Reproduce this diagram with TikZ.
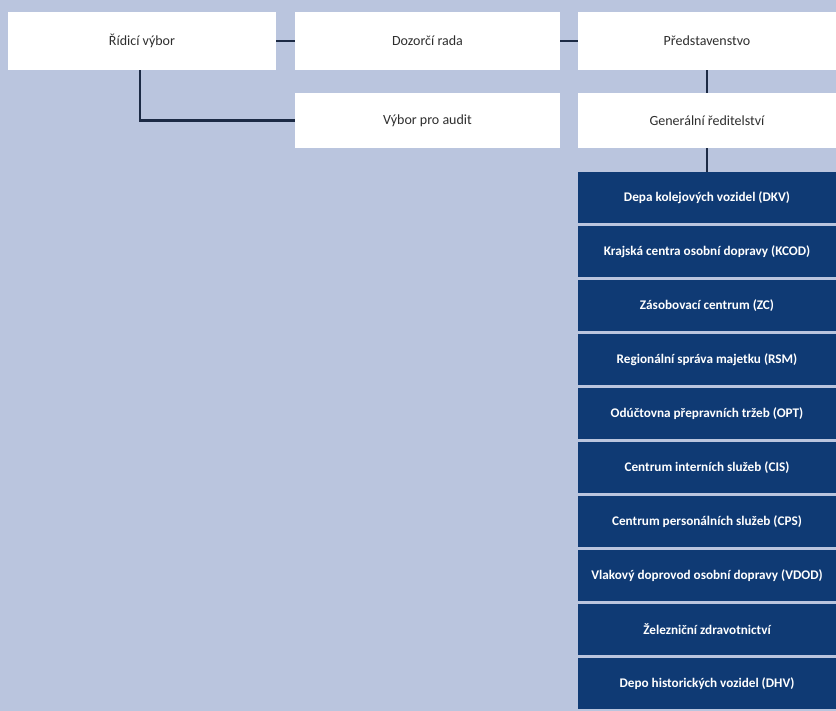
\documentclass[tikz,border=0pt]{standalone}
\usepackage{fontspec}
\setmainfont{Carlito}
\definecolor{bgblue}{HTML}{BAC5DE}
\definecolor{navy}{HTML}{0F3A74}
\definecolor{linecol}{HTML}{1C2A44}
\definecolor{txtgray}{HTML}{2E2E2E}
\begin{document}
\begin{tikzpicture}[x=1pt,y=-1pt,
  wbox/.style={fill=white,draw=none,inner sep=0pt,text=txtgray,font=\fontsize{14}{16}\selectfont},
  nbox/.style={fill=navy,draw=none,inner sep=0pt,text=white,font=\bfseries\fontsize{13.2}{15}\selectfont},
  conn/.style={draw=linecol,line width=2.2pt}]
\fill[bgblue] (0,0) rectangle (836,711);
\useasboundingbox (0,0) rectangle (836,711);
% top row
\node[wbox,minimum width=268pt,minimum height=58pt] (ridici) at (142,41) {Řídicí výbor};
\node[wbox,minimum width=265pt,minimum height=58pt] (dozorci) at (427.5,41) {Dozorčí rada};
\node[wbox,minimum width=258pt,minimum height=58pt] (pred) at (707,41) {Představenstvo};
% second row
\node[wbox,minimum width=265pt,minimum height=55pt] (audit) at (427.5,120.5) {Výbor pro audit};
\node[wbox,minimum width=258pt,minimum height=55pt] (gr) at (707,120.5) {Generální ředitelství};
% dark boxes
\foreach \i/\t in {0/{Depa kolejových vozidel (DKV)},
  1/{Krajská centra osobní dopravy (KCOD)},
  2/{Zásobovací centrum (ZC)},
  3/{Regionální správa majetku (RSM)},
  4/{Odúčtovna přepravních tržeb (OPT)},
  5/{Centrum interních služeb (CIS)},
  6/{Centrum personálních služeb (CPS)},
  7/{Vlakový doprovod osobní dopravy (VDOD)},
  8/{Železniční zdravotnictví},
  9/{Depo historických vozidel (DHV)}}{
  \node[nbox,minimum width=258pt,minimum height=51pt] (d\i) at (707,{197.5+54*\i}) {\t};
}
% connectors
\draw[conn] (ridici.east) -- (dozorci.west);
\draw[conn] (dozorci.east) -- (pred.west);
\draw[conn] (pred.south) -- (gr.north);
\draw[conn] (gr.south) -- (d0.north);
\draw[conn] (ridici.south -| 140,0) |- (audit.west);
\end{tikzpicture}
\end{document}
